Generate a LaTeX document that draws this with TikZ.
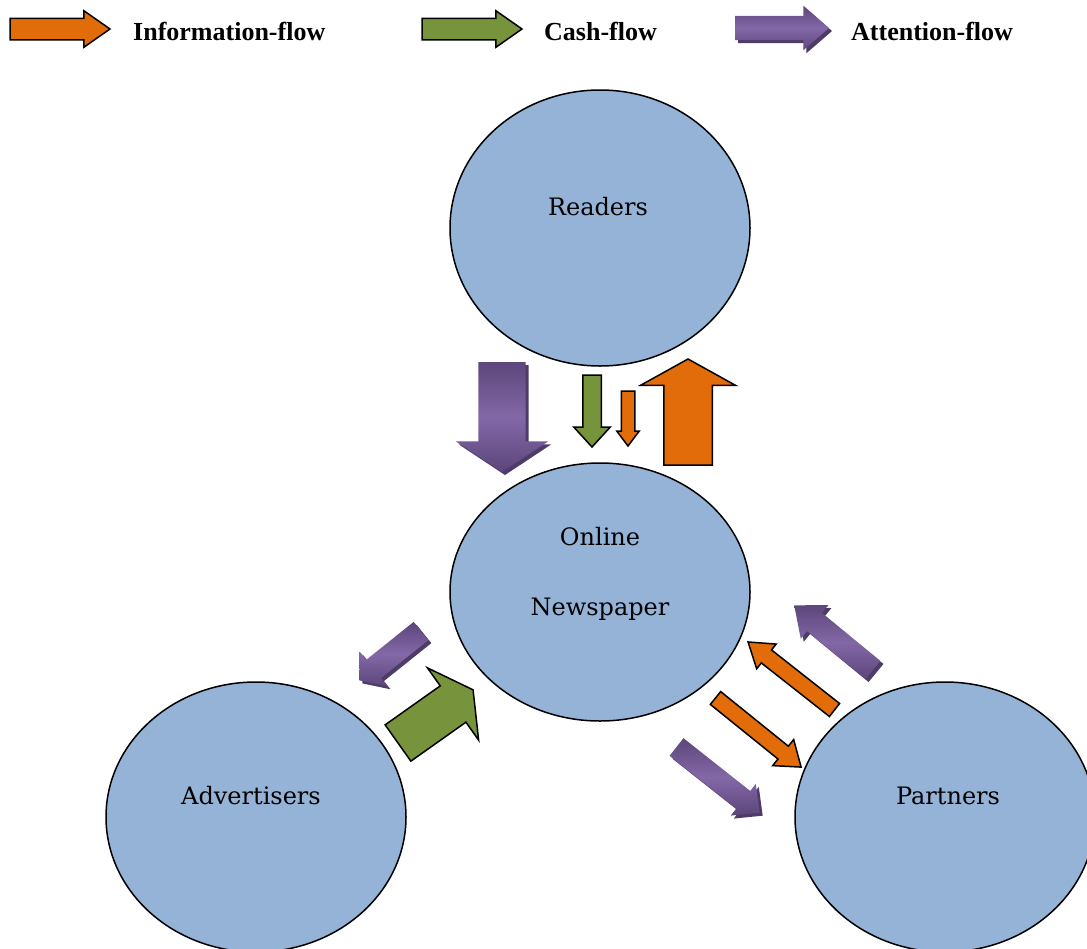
\documentclass[tikz,border=0pt]{standalone}
\usepackage{fontspec}
\setmainfont{DejaVu Serif}
\newfontfamily\legendfont{Liberation Serif}
\usetikzlibrary{shapes.geometric,shapes.arrows,shadows}

\definecolor{partyblue}{RGB}{149,179,215}
\definecolor{infoorange}{RGB}{227,108,10}
\definecolor{cashgreen}{RGB}{119,147,60}
\definecolor{attnlight}{RGB}{131,104,167}
\definecolor{attndark}{RGB}{92,70,122}

\tikzset{
  party/.style={ellipse, draw, line width=1.5pt, fill=partyblue,
    minimum width=300pt, inner sep=0pt},
  partytext/.style={font=\fontsize{24}{29}\selectfont},
  legendtext/.style={anchor=west, inner sep=0pt,
    font=\legendfont\bfseries\fontsize{26}{31}\selectfont},
  flow/.style={single arrow, anchor=tail, inner xsep=0pt, outer sep=0pt},
  infoflow/.style={flow, draw, line width=1.5pt, fill=infoorange},
  cashflow/.style={flow, draw, line width=1.5pt, fill=cashgreen},
  attnflow/.style={flow, top color=attndark, bottom color=attndark,
    middle color=attnlight,
    copy shadow={shadow xshift=3pt, shadow yshift=-3pt, fill=attndark!85!black, draw=none}},
  % length, half shaft width, head extend, tip angle
  dims/.style n args={4}{minimum height=#1, inner ysep=#2,
    single arrow head extend=#3, single arrow tip angle=#4}
}

\begin{document}
\begin{tikzpicture}[x=1pt,y=-1pt]
  \clip (0,0) rectangle (1087,948);

  % legend
  \node (infoleg) [infoflow, dims={100pt}{10pt}{7.5pt}{70}] at (10,29) {};
  \node (infolabel) [legendtext] at (133,31) {Information-flow};
  \node (cashleg) [cashflow, dims={100pt}{10pt}{7.5pt}{70}] at (422,29) {};
  \node (cashlabel) [legendtext] at (544,31) {Cash-flow};
  \node (attnleg) [attnflow, dims={94pt}{12pt}{10pt}{82}] at (735,28) {};
  \node (attnlabel) [legendtext] at (851,31) {Attention-flow};

  % parties
  \node (readers) [party, minimum height=276pt] at (600,228) {};
  \node (news) [party, minimum height=258pt] at (600,592) {};
  \node (adv) [party, minimum height=270pt] at (256,817) {};
  \node (partners) [party, minimum height=270pt] at (945,817) {};

  \node (readerslabel) [partytext] at (598,207) {Readers};
  \node (newslabel1) [partytext] at (600,537) {Online};
  \node (newslabel2) [partytext] at (600,609) {Newspaper};
  \node (advlabel) [partytext] at (251,796) {Advertisers};
  \node (partnerslabel) [partytext] at (948,796) {Partners};

  % readers <-> newspaper
  \node (readattn) [attnflow, rotate=-90, dims={110pt}{23.5pt}{22.5pt}{113}] at (502,362) {};
  \node (readcash) [cashflow, rotate=-90, dims={72pt}{8.5pt}{9pt}{85}] at (592,375) {};
  \node (readinfo) [infoflow, rotate=-90, dims={55pt}{6pt}{4.5pt}{74}] at (628,391) {};
  \node (newsinfo) [infoflow, rotate=90, dims={106pt}{23.5pt}{23.5pt}{122}] at (688,465) {};

  % advertisers <-> newspaper
  \node (advattn) [attnflow, rotate=218.7, dims={79pt}{11.5pt}{10.5pt}{101}] at (421,631) {};
  \node (advcash) [cashflow, rotate=35.3, dims={92pt}{21.5pt}{22pt}{122}] at (398,743) {};

  % partners <-> newspaper
  \node (partattn) [attnflow, rotate=140.6, dims={102pt}{11.5pt}{10pt}{79}] at (873,670) {};
  \node (partinfo) [infoflow, rotate=141.8, dims={110pt}{7.5pt}{7.5pt}{68}] at (834.5,710) {};
  \node (newsinfoout) [infoflow, rotate=-38.9, dims={110pt}{7.5pt}{8.5pt}{72}] at (715.5,698) {};
  \node (newsattnout) [attnflow, rotate=-38.3, dims={106pt}{11pt}{9pt}{88}] at (676.5,747) {};
\end{tikzpicture}
\end{document}
